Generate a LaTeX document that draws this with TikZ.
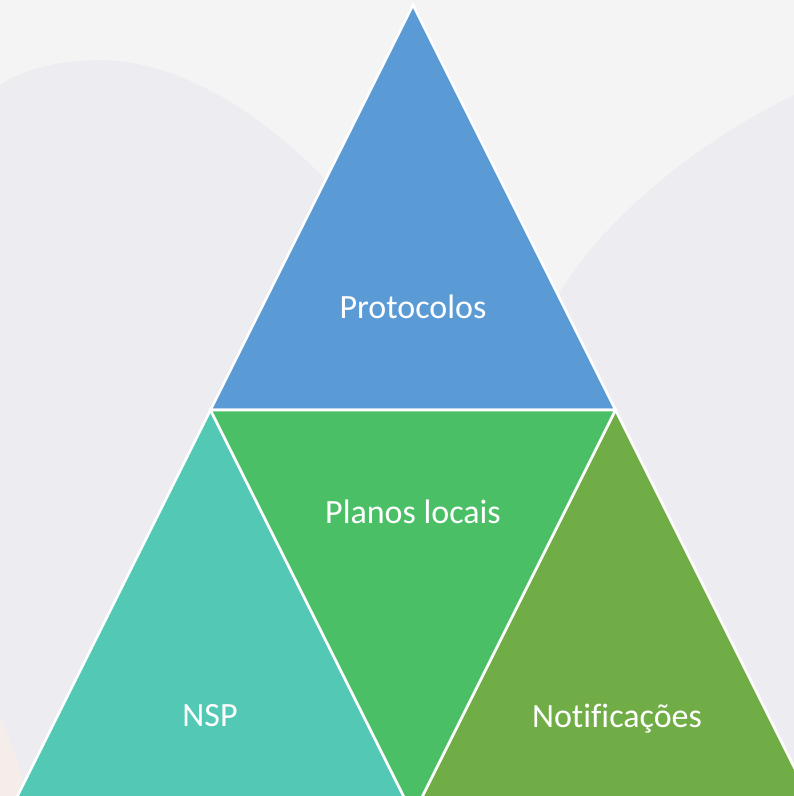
\documentclass[tikz,border=0pt]{standalone}
\usepackage{fontspec}
\setmainfont{Carlito}[Ligatures=CommonOff]
\begin{document}
\begin{tikzpicture}[x=1pt,y=-1pt,
  piece/.style={draw=white,line width=2.6pt,line join=miter},
  label/.style={text=white,font=\fontsize{34}{40}\selectfont,anchor=base,inner sep=0pt}]
\definecolor{bgbase}{HTML}{EDECF0}
\definecolor{bglight}{HTML}{F4F4F4}
\definecolor{capblue}{HTML}{5B9BD5}
\definecolor{midgreen}{HTML}{4ABF66}
\definecolor{sideteal}{HTML}{53C9B5}
\definecolor{sideolive}{HTML}{70AD47}
\useasboundingbox (0,0) rectangle (794,796);
\clip (0,0) rectangle (794,796);
% backdrop: pale grey with a lighter sweep across the top
\fill[bgbase] (0,0) rectangle (794,796);
\fill[bglight] (0,0) -- (794,0) -- (794,95)
  .. controls (700,140) and (600,220) .. (555,300)
  -- (413,300)
  .. controls (330,150) and (200,60) .. (100,60)
  .. controls (60,60) and (20,70) .. (0,85) -- cycle;
\fill[orange!12,opacity=0.4] (0,720) .. controls (15,745) and (22,775) .. (25,796) -- (0,796) -- cycle;
% corner points of the pyramid
\coordinate (apex) at (413,5);
\coordinate (baseL) at (8,815);
\coordinate (baseR) at (818,815);
\coordinate (midL) at (210.5,410);
\coordinate (midR) at (615.5,410);
\coordinate (baseM) at (413,815);
% the four triangles
\filldraw[piece,fill=capblue] (apex) -- (midL) -- (midR) -- cycle;
\filldraw[piece,fill=sideteal] (midL) -- (baseL) -- (baseM) -- cycle;
\filldraw[piece,fill=sideolive] (midR) -- (baseM) -- (baseR) -- cycle;
\filldraw[piece,fill=midgreen] (midL) -- (midR) -- (baseM) -- cycle;
% labels
\node[label] (protocolos) at (413,318) {Protocolos};
\node[label] (planos) at (413,523) {Planos locais};
\node[label] (nsp) at (210,726) {NSP};
\node[label] (notif) at (617,727) {Notificações};
\end{tikzpicture}
\end{document}
